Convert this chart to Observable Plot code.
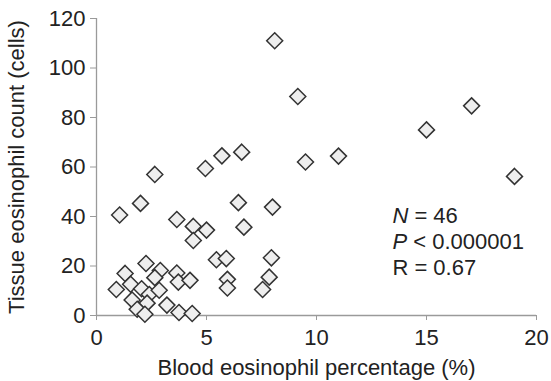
<!DOCTYPE html>
<html>
<head>
<meta charset="utf-8">
<script src="https://cdn.jsdelivr.net/npm/d3@7"></script>
<script src="https://cdn.jsdelivr.net/npm/@observablehq/plot@0.6"></script>
<style>
  html, body { margin: 0; padding: 0; background: #fff; }
  g[aria-label$="tick"] { stroke: #9a9a9a; }
</style>
</head>
<body>
<div id="chart"></div>
<script>
// Blood eosinophil percentage (%)
const bloodPct = [
  8.1, 9.15, 17.05, 15.0, 11.0, 9.5, 19.0, 6.6, 5.7, 4.95, 2.65, 2.0,
  1.05, 6.45, 8.0, 3.65, 4.4, 5.0, 6.7, 4.4, 5.45, 5.9, 7.95, 2.25,
  5.95, 5.95, 7.85, 7.55,
  0.9, 1.3, 1.55, 2.05, 2.9, 2.65, 3.65, 3.72, 4.25, 1.62, 2.4, 2.85,
  2.3, 1.85, 2.2, 3.2, 3.75, 4.35
];
// Tissue eosinophil count (cells)
const tissueCount = [
  111, 88.5, 84.7, 75, 64.4, 62, 56.2, 66, 64.5, 59.4, 57, 45.3,
  40.6, 45.6, 43.8, 38.8, 36, 34.5, 35.7, 30.3, 22.5, 23, 23.3, 21,
  14.6, 11.1, 15.5, 10.5,
  10.5, 17, 12.6, 10.8, 18.2, 15.3, 17.2, 13.5, 14.2, 6.3, 8.5, 10.2,
  5, 2.5, 0.5, 4.2, 1.2, 0.8
];
const xTicks = [0, 5, 10, 15, 20];
const yTicks = [0, 20, 40, 60, 80, 100, 120];
const statLabels = ["N = 46", "P < 0.000001", "R = 0.67"];
const statX = [13.45, 13.45, 13.45];
const statY = [40.2, 29.6, 19.4];

const points = bloodPct.map((b, i) => ({blood: b, tissue: tissueCount[i]}));
const stats = statLabels.map((t, i) => ({t, x: statX[i], y: statY[i]}));

const chart = Plot.plot({
  width: 551,
  height: 381,
  marginLeft: 96,
  marginRight: 15,
  marginTop: 18,
  marginBottom: 66,
  style: {fontFamily: "'Liberation Sans', Arial, sans-serif", fontSize: "22px", color: "#222", background: "#fff"},
  x: {
    domain: [0, 20], ticks: xTicks, tickSize: 5, tickPadding: 9,
    label: "Blood eosinophil percentage (%)", labelAnchor: "center", labelArrow: false, labelOffset: 59
  },
  y: {
    domain: [0, 120], ticks: yTicks, tickSize: 6, tickPadding: 5,
    label: "Tissue eosinophil count (cells)", labelAnchor: "center", labelArrow: false, labelOffset: 88
  },
  marks: [
    Plot.ruleX([0], {stroke: "#9a9a9a", strokeWidth: 1.3}),
    Plot.ruleY([0], {stroke: "#9a9a9a", strokeWidth: 1.3}),
    Plot.dot(points, {x: "blood", y: "tissue", symbol: "diamond2", r: 7.2, fill: "#eeeeee", stroke: "#333", strokeWidth: 1.5}),
    Plot.text(stats, {x: "x", y: "y", text: "t", textAnchor: "start", fill: "#222", fontSize: 22})
  ]
});
document.getElementById("chart").appendChild(chart);

// italicise the statistic symbols (N, P)
d3.select(chart).selectAll("text").each(function() {
  const s = this.textContent;
  if (s === "N = 46" || s === "P < 0.000001") {
    const sel = d3.select(this);
    sel.text(null);
    sel.append("tspan").attr("font-style", "italic").text(s[0]);
    sel.append("tspan").text(s.slice(1));
  }
});
</script>
</body>
</html>
